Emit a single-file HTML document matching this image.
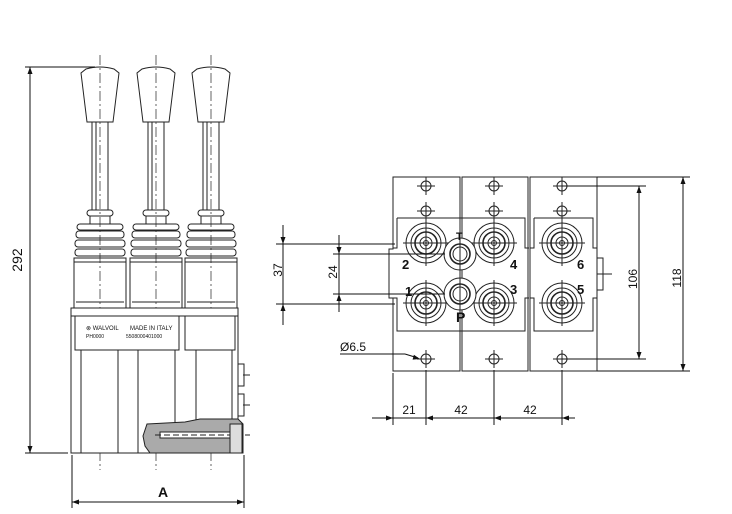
<!DOCTYPE html>
<html><head><style>
html,body{margin:0;padding:0;background:#fff}
svg{display:block}
text{font-family:"Liberation Sans",sans-serif;fill:#111}
</style></head><body>
<svg width="732" height="514" viewBox="0 0 732 514" xmlns="http://www.w3.org/2000/svg">
<defs>
<g id="lever" fill="none" stroke="#222" stroke-width="1">
  <path d="M-14,69 Q0,65 14,69 L19,73 L13,122 L-13,122 L-19,73 Z" fill="#fff"/>
  <rect x="-8" y="122" width="16" height="88"/>
  <line x1="-4" y1="122" x2="-4" y2="210"/>
  <rect x="-13" y="210" width="26" height="6" rx="3"/>
  <rect x="-10" y="216" width="20" height="8"/>
  <rect x="-23" y="224" width="46" height="6" rx="3"/>
  <rect x="-24" y="231" width="48" height="7" rx="3"/>
  <rect x="-25" y="240" width="50" height="7" rx="3"/>
  <rect x="-25" y="249" width="50" height="7" rx="3"/>
  <rect x="-26" y="258" width="52" height="50"/>
  <line x1="-26" y1="262" x2="26" y2="262"/>
  <line x1="-24" y1="302" x2="24" y2="302"/>
  <line x1="0" y1="55" x2="0" y2="470" stroke-dasharray="10,3,2,3" stroke-width="0.7"/>
</g>
<g id="hole" fill="none" stroke="#222" stroke-width="1">
  <circle r="5"/><line x1="-9" y1="0" x2="9" y2="0"/><line x1="0" y1="-9" x2="0" y2="9"/>
</g>
<g id="port" fill="none" stroke="#222" stroke-width="1">
  <circle r="20"/><circle r="15"/><circle r="11" stroke-width="1.6"/><circle r="6"/><circle r="2.5"/>
  <line x1="-23" y1="0" x2="23" y2="0"/><line x1="0" y1="-23" x2="0" y2="23"/>
</g>
<g id="arr"><path d="M0,0 L-2.5,-7 L2.5,-7 Z" fill="#111"/></g>
</defs>

<!-- LEFT VIEW -->
<use href="#lever" x="100"/>
<use href="#lever" x="156"/>
<use href="#lever" x="211"/>
<g fill="none" stroke="#222" stroke-width="1">
  <rect x="71" y="308" width="167" height="145" fill="#fff"/>
  <line x1="71" y1="316" x2="238" y2="316"/>
  <rect x="75" y="316" width="104" height="34"/>
  <rect x="185" y="316" width="50" height="34"/>
  <line x1="81" y1="350" x2="81" y2="453"/>
  <line x1="118" y1="350" x2="118" y2="453"/>
  <line x1="138" y1="350" x2="138" y2="453"/>
  <line x1="175" y1="350" x2="175" y2="453"/>
  <line x1="196" y1="350" x2="196" y2="453"/>
  <line x1="232" y1="350" x2="232" y2="430"/>
  <rect x="238" y="364" width="6" height="22"/>
  <rect x="238" y="394" width="6" height="22"/>
  <path d="M147,424 L185,422 L200,419 L238,419 L243,424 L243,453 L150,453 L145,446 L143,436 Z" fill="#aaa"/>
  <rect x="160" y="432" width="80" height="6" fill="#fff"/>
  <line x1="155" y1="435" x2="250" y2="435" stroke-dasharray="6,3"/>
  <rect x="230" y="424" width="12" height="29" fill="#ddd"/>
  <line x1="243" y1="375" x2="250" y2="375"/><line x1="243" y1="405" x2="250" y2="405"/>
</g>
<text x="86" y="330" font-size="6">⊗ WALVOIL</text>
<text x="86" y="338" font-size="5">PH0000</text>
<text x="130" y="330" font-size="6">MADE IN ITALY</text>
<text x="126" y="338" font-size="5">5508000401000</text>

<!-- 292 dim -->
<g stroke="#111" stroke-width="1">
  <line x1="25" y1="67" x2="95" y2="67"/>
  <line x1="25" y1="453" x2="68" y2="453"/>
  <line x1="30" y1="67" x2="30" y2="453"/>
  <line x1="72" y1="455" x2="72" y2="508"/>
  <line x1="244" y1="455" x2="244" y2="508"/>
  <line x1="72" y1="502" x2="244" y2="502"/>
</g>
<use href="#arr" transform="translate(30,67) rotate(180)"/>
<use href="#arr" transform="translate(30,453)"/>
<use href="#arr" transform="translate(72,502) rotate(90)"/>
<use href="#arr" transform="translate(244,502) rotate(-90)"/>
<text x="22" y="260" font-size="14" transform="rotate(-90 22 260)" text-anchor="middle">292</text>
<text x="163" y="497" font-size="14" font-weight="bold" text-anchor="middle">A</text>

<!-- RIGHT VIEW -->
<g fill="none" stroke="#222" stroke-width="1">
  <path d="M393,177 H460 V371 H393 V298 H389 V249 H393 Z" fill="#fff"/>
  <rect x="462" y="177" width="66" height="194" fill="#fff"/>
  <rect x="530" y="177" width="67" height="194" fill="#fff"/>
  <rect x="597" y="258" width="6" height="32"/>
  <path d="M397,218 H525 V248 H529 M397,218 V248 H393 M393,298 H397 V331 H525 V298 H529" />
  <path d="M534,218 H593 V248 H597 M534,218 V248 H530 M530,298 H534 V331 H593 V298 H597"/>
  <line x1="597" y1="274" x2="612" y2="274"/>
</g>
<use href="#port" x="426" y="243"/>
<use href="#port" x="494" y="243"/>
<use href="#port" x="426" y="303"/>
<use href="#port" x="494" y="303"/>
<use href="#port" x="562" y="243"/>
<use href="#port" x="562" y="303"/>
<g fill="none" stroke="#222" stroke-width="1">
  <circle cx="460" cy="254" r="16" fill="#fff"/><circle cx="460" cy="254" r="10" stroke-width="1.6"/><circle cx="460" cy="254" r="7"/>
  <circle cx="460" cy="294" r="16" fill="#fff"/><circle cx="460" cy="294" r="10" stroke-width="1.6"/><circle cx="460" cy="294" r="7"/>
  <line x1="460" y1="236" x2="460" y2="312"/>
</g>
<use href="#hole" x="426" y="186"/><use href="#hole" x="494" y="186"/><use href="#hole" x="562" y="186"/>
<use href="#hole" x="426" y="211"/><use href="#hole" x="494" y="211"/><use href="#hole" x="562" y="211"/>
<use href="#hole" x="426" y="359"/><use href="#hole" x="494" y="359"/><use href="#hole" x="562" y="359"/>
<g font-size="13" font-weight="bold">
  <text x="402" y="269">2</text><text x="510" y="269">4</text>
  <text x="405" y="296">1</text><text x="510" y="294">3</text>
  <text x="577" y="269">6</text><text x="577" y="294">5</text>
  <text x="456" y="240" font-size="11">T</text><text x="456" y="322" font-size="14">P</text>
</g>

<!-- right dims -->
<g stroke="#111" stroke-width="1">
  <line x1="276" y1="244" x2="395" y2="244"/>
  <line x1="276" y1="304" x2="395" y2="304"/>
  <line x1="283" y1="225" x2="283" y2="325"/>
  <line x1="333" y1="254" x2="445" y2="254"/>
  <line x1="333" y1="294" x2="445" y2="294"/>
  <line x1="339" y1="235" x2="339" y2="312"/>
  <line x1="562" y1="186" x2="646" y2="186"/>
  <line x1="562" y1="359" x2="646" y2="359"/>
  <line x1="639" y1="186" x2="639" y2="359"/>
  <line x1="597" y1="177" x2="690" y2="177"/>
  <line x1="597" y1="371" x2="690" y2="371"/>
  <line x1="683" y1="177" x2="683" y2="371"/>
  <line x1="393" y1="373" x2="393" y2="425"/>
  <line x1="426" y1="370" x2="426" y2="425"/>
  <line x1="494" y1="370" x2="494" y2="425"/>
  <line x1="562" y1="370" x2="562" y2="425"/>
  <line x1="372" y1="418" x2="575" y2="418"/>
  <line x1="340" y1="354" x2="405" y2="354"/>
  <line x1="405" y1="354" x2="418" y2="358"/>
</g>
<use href="#arr" transform="translate(283,244)"/>
<use href="#arr" transform="translate(283,304) rotate(180)"/>
<use href="#arr" transform="translate(339,254)"/>
<use href="#arr" transform="translate(339,294) rotate(180)"/>
<use href="#arr" transform="translate(639,186) rotate(180)"/>
<use href="#arr" transform="translate(639,359)"/>
<use href="#arr" transform="translate(683,177) rotate(180)"/>
<use href="#arr" transform="translate(683,371)"/>
<use href="#arr" transform="translate(393,418) rotate(-90)"/>
<use href="#arr" transform="translate(426,418) rotate(90)"/>
<use href="#arr" transform="translate(494,418) rotate(90)"/>
<use href="#arr" transform="translate(562,418) rotate(90)"/>
<use href="#arr" transform="translate(420,359) rotate(-75)"/>
<text x="282" y="270" font-size="12" transform="rotate(-90 282 270)" text-anchor="middle">37</text>
<text x="337" y="272" font-size="12" transform="rotate(-90 337 272)" text-anchor="middle">24</text>
<text x="637" y="279" font-size="12" transform="rotate(-90 637 279)" text-anchor="middle">106</text>
<text x="681" y="278" font-size="12" transform="rotate(-90 681 278)" text-anchor="middle">118</text>
<text x="409" y="414" font-size="12" text-anchor="middle">21</text>
<text x="461" y="414" font-size="12" text-anchor="middle">42</text>
<text x="530" y="414" font-size="12" text-anchor="middle">42</text>
<text x="340" y="351" font-size="12">Ø6.5</text>
</svg>
</body></html>
